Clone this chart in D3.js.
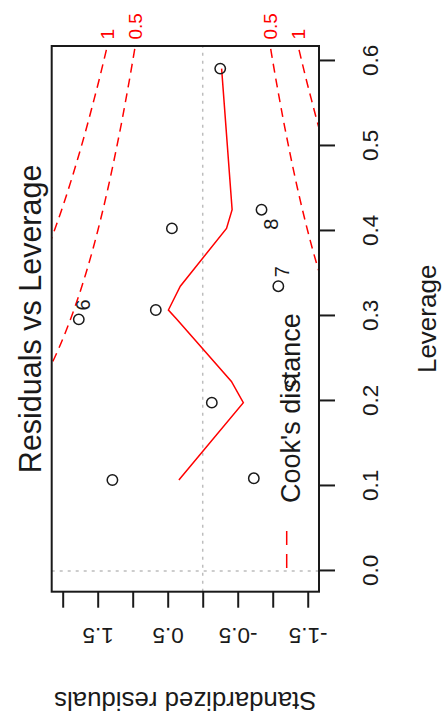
<!DOCTYPE html>
<html>
<head>
<meta charset="utf-8">
<script src="https://cdn.jsdelivr.net/npm/d3@7"></script>
<style>
  html, body { margin: 0; padding: 0; background: #fff; }
  svg { display: block; font-family: "Liberation Sans", Arial, Helvetica, sans-serif; }
</style>
</head>
<body>
<div id="chart"></div>
<script>
// Observations: id, leverage (hat value) and standardized residual
const obsId       = [1, 2, 3, 4, 5, 6, 7, 8, 9, 10];
const leverage    = [0.107, 0.198, 0.109, 0.223, 0.307, 0.296, 0.335, 0.425, 0.403, 0.591];
const stdResidual = [1.29, -0.13, -0.73, -1.25, 0.67, 1.77, -1.08, -0.84, 0.44, -0.25];
const labelledIds = [6, 7, 8];

// Smoother through the residuals, one vertex per observed leverage
const smoothLeverage = [0.107, 0.109, 0.198, 0.223, 0.296, 0.307, 0.335, 0.403, 0.425, 0.591];
const smoothResidual = [0.34, 0.32, -0.58, -0.41, 0.37, 0.49, 0.32, -0.34, -0.42, -0.27];

// Cook's distance contours (|residual| at each leverage)
const cookLeverage = [0.20, 0.22, 0.25, 0.28, 0.30, 0.33, 0.35, 0.38, 0.40, 0.43, 0.45, 0.48, 0.50, 0.53, 0.55, 0.58, 0.60, 0.6176];
const cookHalf     = [2.449, 2.306, 2.121, 1.964, 1.871, 1.745, 1.669, 1.564, 1.500, 1.410, 1.354, 1.275, 1.225, 1.153, 1.108, 1.042, 1.000, 0.964];
const cookOne      = [3.464, 3.261, 3.000, 2.777, 2.646, 2.468, 2.360, 2.212, 2.121, 1.994, 1.915, 1.803, 1.732, 1.631, 1.567, 1.473, 1.414, 1.363];
const cookLevels   = ["0.5", "1"];

// Axis extents and ticks
const leverageLimits = [-0.0244, 0.6176];
const residualLimits = [-1.661, 2.157];
const leverageTicks  = [0, 0.1, 0.2, 0.3, 0.4, 0.5, 0.6];
const residualTicks  = [-1.5, -1, -0.5, 0, 0.5, 1, 1.5, 2];
const residualTickLabels = ["-1.5", "", "-0.5", "", "0.5", "", "1.5", ""];

// Panel drawn in landscape, then turned a quarter turn counter-clockwise
const W = 443, H = 727;          // page
const PW = H, PH = W;            // panel before turning
const box = { left: 135.3, right: 681, top: 51.7, bottom: 319 };
const ink = "#1a1a1a";

const svg = d3.select("#chart").append("svg")
  .attr("width", W).attr("height", H);

const g = svg.append("g")
  .attr("transform", `translate(0,${PW}) rotate(-90)`);

const x = d3.scaleLinear().domain(leverageLimits).range([box.left, box.right]);
const y = d3.scaleLinear().domain(residualLimits).range([box.bottom, box.top]);

g.append("clipPath").attr("id", "plotClip")
  .append("rect")
  .attr("x", box.left).attr("y", box.top)
  .attr("width", box.right - box.left).attr("height", box.bottom - box.top);

const plot = g.append("g").attr("clip-path", "url(#plotClip)");

// reference lines at residual 0 and leverage 0
plot.append("line")
  .attr("x1", box.left).attr("x2", box.right)
  .attr("y1", y(0)).attr("y2", y(0))
  .attr("stroke", "#bdbdbd").attr("stroke-width", 1.5).attr("stroke-dasharray", "3,5");
plot.append("line")
  .attr("x1", x(0)).attr("x2", x(0))
  .attr("y1", box.top).attr("y2", box.bottom)
  .attr("stroke", "#bdbdbd").attr("stroke-width", 1.5).attr("stroke-dasharray", "3,5");

// Cook's distance contours, both signs
const contourLine = d3.line()
  .x(d => x(d[0])).y(d => y(d[1]))
  .curve(d3.curveMonotoneX);
[cookHalf, cookOne].forEach(level => {
  [1, -1].forEach(sign => {
    const pts = cookLeverage.map((h, i) => [h, sign * level[i]]);
    plot.append("path")
      .attr("d", contourLine(pts))
      .attr("fill", "none")
      .attr("stroke", "#ff0000")
      .attr("stroke-width", 1.5)
      .attr("stroke-dasharray", "9,6");
  });
});

// smoother
const smoothPts = smoothLeverage.map((h, i) => [h, smoothResidual[i]]);
plot.append("path")
  .attr("d", d3.line().x(d => x(d[0])).y(d => y(d[1]))(smoothPts))
  .attr("fill", "none")
  .attr("stroke", "#ff0000")
  .attr("stroke-width", 1.5);

// points
const obs = obsId.map((id, i) => ({ id, h: leverage[i], r: stdResidual[i] }));
g.append("g").selectAll("circle")
  .data(obs).join("circle")
  .attr("cx", d => x(d.h)).attr("cy", d => y(d.r))
  .attr("r", 5.2)
  .attr("fill", "none").attr("stroke", ink).attr("stroke-width", 1.5);

// labels for the most influential observations
const midLev = (d3.min(leverage) + d3.max(leverage)) / 2;
g.append("g").selectAll("text")
  .data(obs.filter(d => labelledIds.includes(d.id))).join("text")
  .attr("x", d => x(d.h) + (d.h > midLev ? -9 : 9))
  .attr("y", d => y(d.r) + (d.h > midLev ? 9 : 4))
  .attr("text-anchor", d => d.h > midLev ? "end" : "start")
  .attr("dominant-baseline", "central")
  .attr("font-size", 20).attr("fill", ink)
  .text(d => d.id);

// frame
g.append("rect")
  .attr("x", box.left).attr("y", box.top)
  .attr("width", box.right - box.left).attr("height", box.bottom - box.top)
  .attr("fill", "none").attr("stroke", ink).attr("stroke-width", 2);

// leverage axis
const xAxis = g.append("g")
  .attr("transform", `translate(0,${box.bottom})`)
  .call(d3.axisBottom(x).tickValues(leverageTicks).tickFormat(d3.format(".1f"))
    .tickSize(16).tickSizeOuter(0));
xAxis.select(".domain").remove();
xAxis.selectAll(".tick line").attr("stroke", ink).attr("stroke-width", 2);
xAxis.selectAll(".tick text")
  .attr("y", 59).attr("dy", 0)
  .attr("font-size", 22.5).attr("fill", ink);
xAxis.attr("font-family", null).attr("font-size", null);

// residual axis
const yAxis = g.append("g")
  .attr("transform", `translate(${box.left},0)`)
  .call(d3.axisLeft(y).tickValues(residualTicks)
    .tickFormat((d, i) => residualTickLabels[i])
    .tickSize(16).tickSizeOuter(0));
yAxis.select(".domain").remove();
yAxis.selectAll(".tick line").attr("stroke", ink).attr("stroke-width", 2);
yAxis.selectAll(".tick text")
  .attr("x", 0).attr("y", 0).attr("dy", 0)
  .attr("text-anchor", "middle")
  .attr("transform", `translate(${98.7 - box.left},0) rotate(-90)`)
  .attr("font-size", 22.5).attr("fill", ink);
yAxis.attr("font-family", null).attr("font-size", null);

// contour level labels in the right margin
const last = cookLeverage.length - 1;
const levelLabels = [
  { r: cookOne[last], t: cookLevels[1] }, { r: cookHalf[last], t: cookLevels[0] },
  { r: -cookHalf[last], t: cookLevels[0] }, { r: -cookOne[last], t: cookLevels[1] }
];
g.append("g").selectAll("text")
  .data(levelLabels).join("text")
  .attr("x", box.right + 6.5).attr("y", d => y(d.r))
  .attr("dominant-baseline", "central")
  .attr("font-size", 19).attr("fill", "#ff0000")
  .text(d => d.t);

// titles
const cx = (box.left + box.right) / 2, cy = (box.top + box.bottom) / 2;
g.append("text")
  .attr("x", cx).attr("y", 41)
  .attr("text-anchor", "middle").attr("font-size", 30.5).attr("fill", ink)
  .text("Residuals vs Leverage");
g.append("text")
  .attr("x", cx).attr("y", 436)
  .attr("text-anchor", "middle").attr("font-size", 26).attr("fill", ink)
  .text("Leverage");
g.append("text")
  .attr("transform", `translate(35.3,${cy}) rotate(-90)`)
  .attr("text-anchor", "middle").attr("font-size", 25.8).attr("fill", ink)
  .text("Standardized residuals");

// legend
g.append("line")
  .attr("x1", 159).attr("x2", 201)
  .attr("y1", 286.7).attr("y2", 286.7)
  .attr("stroke", "#ff0000").attr("stroke-width", 1.5).attr("stroke-dasharray", "14,9");
g.append("text")
  .attr("x", 224).attr("y", 300)
  .attr("font-size", 27).attr("fill", ink)
  .text("Cook's distance");
</script>
</body>
</html>
